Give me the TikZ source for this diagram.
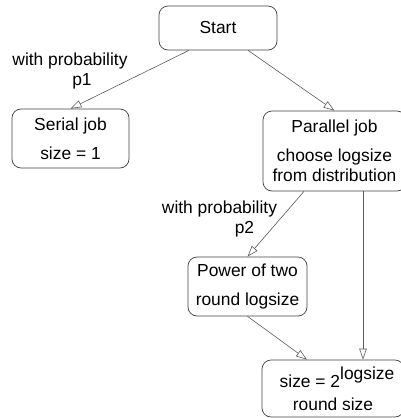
\documentclass[tikz,border=0pt]{standalone}
\usepackage{fontspec}
\setmainfont{Liberation Sans}
\usetikzlibrary{arrows.meta}

\begin{document}
\begin{tikzpicture}[x=1pt, y=-1pt,
        every node/.style={font=\fontsize{17.4}{20}\selectfont},
        box/.style={draw=black!75, rounded corners=9pt, align=center, inner sep=2pt, line width=0.7pt},
        flow/.style={draw=black!65, line width=0.6pt, -{Triangle[open, length=11pt, width=7.5pt]}},
        lbl/.style={align=center, inner sep=0pt}]
        \useasboundingbox (0, 0) rectangle (401, 418);

        % Draw nodes
        \node[box, minimum width=118pt, minimum height=44pt] (start) at (218, 28) {Start};
        \node[box, minimum width=117pt, minimum height=59pt] (serial) at (70.5, 138.5) {Serial job\\[9pt]size = 1};
        \node[box, minimum width=143pt, minimum height=80pt] (parallel) at (334.5, 151) {Parallel job\\[9pt]choose logsize\\from distribution};
        \node[box, minimum width=119pt, minimum height=59pt] (power) at (247.5, 286.5) {Power of two\\[9pt]round logsize};
        \node[box, minimum width=142pt, minimum height=57pt] (final) at (333, 388.5) {\hspace*{8pt}size = 2\raisebox{0.45em}{logsize}\\[3pt]round size};

        % Draw labels
        \node[lbl] (prob1) at (70, 71) {with probability\\\hspace*{24pt}p1};
        \node[lbl] (prob2) at (219.5, 219) {with probability\\\hspace*{50pt}p2};

        % Draw flow lines
        \draw[flow] ([xshift=-29pt]start.south) -- (serial.north);
        \draw[flow] ([xshift=30pt]start.south) -- (parallel.north);
        \draw[flow] ([xshift=-30.5pt]parallel.south) -- (power.north);
        \draw[flow] ([xshift=28.5pt]parallel.south) -- ([xshift=30pt]final.north);
        \draw[flow] (power.south) -- ([xshift=-26pt]final.north);
    \end{tikzpicture}
\end{document}
